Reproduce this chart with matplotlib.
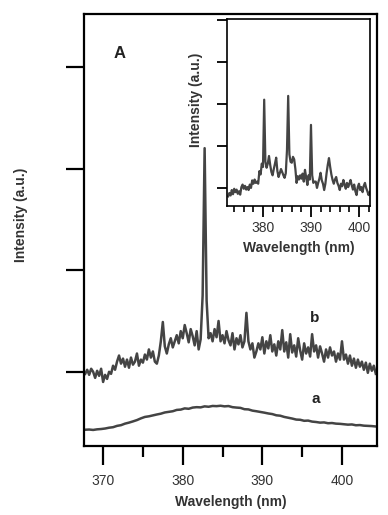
import numpy as np
import matplotlib
matplotlib.use("Agg")
import matplotlib.pyplot as plt
from matplotlib.ticker import MultipleLocator

plt.rcParams['font.family'] = ['Liberation Sans', 'DejaVu Sans']

# ---------------- data ----------------
# curve b (main), sampled every 0.25 nm from 367.75 nm
b_start, b_step = 367.75, 0.25
b_vals = [0.98, 1.02, 0.97, 1.03, 1.00,
          0.94, 1.01, 0.96, 1.03,
          0.90, 0.97, 0.93, 1.00,
          0.98, 1.06, 1.02, 1.10,
          1.16, 1.08, 1.13, 1.05,
          1.12, 1.04, 1.14, 1.07,
          1.10, 1.18, 1.06, 1.12,
          1.09, 1.17, 1.12, 1.22,
          1.14, 1.20, 1.10, 1.08,
          1.16, 1.30, 1.49, 1.25,
          1.18, 1.27, 1.33, 1.24,
          1.30, 1.36, 1.28, 1.40,
          1.33, 1.46, 1.38, 1.29,
          1.42, 1.35, 1.26, 1.40,
          1.22, 1.32, 1.75, 3.20,
          1.70, 1.33, 1.38, 1.30,
          1.42, 1.34, 1.50, 1.30,
          1.36, 1.28, 1.40, 1.31,
          1.26, 1.38, 1.22, 1.33,
          1.27, 1.36, 1.24, 1.30,
          1.58, 1.30, 1.22, 1.28,
          1.14, 1.20, 1.28, 1.22,
          1.34, 1.18, 1.30, 1.23,
          1.36, 1.20, 1.27, 1.16,
          1.30, 1.22, 1.41, 1.20,
          1.29, 1.14, 1.37, 1.19,
          1.26, 1.15, 1.33, 1.21,
          1.12, 1.28, 1.18, 1.24,
          1.15, 1.37, 1.20, 1.26,
          1.14, 1.25, 1.18, 1.10,
          1.22, 1.14, 1.24, 1.16,
          1.20, 1.10, 1.18, 1.12,
          1.30, 1.12, 1.17, 1.08,
          1.16, 1.06, 1.13, 1.04,
          1.12, 1.05, 1.10, 1.02,
          1.09, 0.99, 1.08, 1.01,
          1.06, 0.98]

# curve a (main), sampled every 0.5 nm from 367.75 nm
a_start, a_step = 367.75, 0.5
a_vals = [0.430, 0.432, 0.428, 0.434, 0.437, 0.442, 0.450, 0.455, 0.468, 0.475,
          0.490, 0.500, 0.512, 0.525, 0.542, 0.556, 0.562, 0.571, 0.580, 0.588,
          0.600, 0.606, 0.612, 0.625, 0.628, 0.640, 0.636, 0.648, 0.652, 0.650,
          0.660, 0.656, 0.664, 0.662, 0.666, 0.660, 0.663, 0.652, 0.648, 0.645,
          0.632, 0.630, 0.618, 0.612, 0.605, 0.598, 0.590, 0.584, 0.572, 0.568,
          0.556, 0.548, 0.540, 0.530, 0.528, 0.518, 0.520, 0.510, 0.506, 0.500,
          0.502, 0.494, 0.496, 0.490, 0.488, 0.484, 0.480, 0.482, 0.474, 0.476,
          0.470, 0.468, 0.466, 0.462]

# inset curve, sampled every 0.25 nm from 372.75 nm
i_start, i_step = 372.75, 0.25
i_vals = [-0.20,
          -0.12, -0.18, -0.05, -0.15,
          -0.02, -0.10, -0.04, -0.14,
          -0.08, -0.16, 0.02, 0.08,
          -0.02, 0.05, -0.04, 0.02,
          -0.05, 0.08, 0.00, 0.18,
          0.10, 0.20, 0.12, 0.15,
          0.10, 0.40, 0.32, 0.58,
          0.50, 2.10, 0.62, 0.48,
          0.58, 0.76, 0.55, 0.38,
          0.30, 0.45, 0.58, 0.72,
          0.40, 0.26, 0.35, 0.45,
          0.38, 0.30, 0.24, 0.35,
          0.90, 2.19, 0.80, 0.62,
          0.60, 0.74, 0.68, 0.45,
          0.12, 0.28, 0.20, 0.30,
          0.22, 0.34, 0.15, 0.43,
          0.25, 0.07, 0.30, 0.20,
          1.50, 0.30, 0.12, 0.15,
          0.15, 0.00, 0.12, 0.22,
          0.36, 0.18, 0.10, -0.05,
          0.10, 0.35, 0.55, 0.71,
          0.50, 0.32, 0.19, 0.10,
          0.20, 0.26, 0.12, 0.05,
          -0.05, 0.10, 0.04, 0.19,
          0.08, -0.02, 0.12, 0.02,
          0.10, 0.19, 0.06, -0.04,
          0.08, -0.08, -0.17, 0.02,
          0.10, -0.05, 0.02, -0.10,
          0.05, 0.12, 0.00, -0.08,
          -0.17, -0.10]

main_xticks = [370, 380, 390, 400]
main_xminor = [375, 385, 395]
main_yticks = [1, 2, 3, 4]
inset_xticks = [380, 390, 400]
inset_yticks = [0, 1, 2, 3, 4]

b_x = b_start + b_step * np.arange(len(b_vals))
a_x = a_start + a_step * np.arange(len(a_vals))
i_x = i_start + i_step * np.arange(len(i_vals))

# ---------------- figure ----------------
W, H = 388, 515
fig = plt.figure(figsize=(W / 100, H / 100), dpi=100)
line_c = '#444444'
txt_c = '#333333'

def fr(l, t, r, b):
    return [l / W, 1 - b / H, (r - l) / W, (b - t) / H]

ax = fig.add_axes(fr(84, 14, 377, 446))
ax.plot(b_x, b_vals, color=line_c, lw=1.8)
ax.plot(a_x, a_vals, color=line_c, lw=1.8)
ax.set_xlim(367.6, 404.4)
ax.set_ylim(0.27, 4.52)
for s in ax.spines.values():
    s.set_linewidth(1.6)
ax.set_xticks(main_xticks)
ax.set_xticks(main_xminor, minor=True)
ax.set_yticks(main_yticks)
ax.set_yticklabels([])
ax.tick_params(axis='x', which='major', direction='out', length=14, width=1.6,
               labelsize=10, labelcolor=txt_c, pad=6)
ax.tick_params(axis='x', which='minor', direction='out', length=8, width=1.6)
ax.tick_params(axis='y', which='major', direction='out', length=13, width=1.6)
ax.set_xlabel('Wavelength (nm)', fontsize=10, fontweight='bold', color=txt_c, labelpad=5)
ax.set_ylabel('Intensity (a.u.)', fontsize=10, fontweight='bold', color=txt_c)
ax.yaxis.set_label_coords(-0.19, 0.535)
fig.text(120 / W, 1 - 53 / H, 'A', fontsize=12, fontweight='bold', color='#222222',
         ha='center', va='center')
fig.text(315 / W, 1 - 318 / H, 'b', fontsize=11, fontweight='bold', color='#222222',
         ha='center', va='center')
fig.text(316 / W, 1 - 399 / H, 'a', fontsize=11, fontweight='bold', color='#222222',
         ha='center', va='center')

# inset
ins = fig.add_axes(fr(227, 19, 370, 206))
ins.plot(i_x, i_vals, color=line_c, lw=1.6)
ins.set_xlim(372.5, 402.3)
ins.set_ylim(-0.43, 4.02)
for s in ins.spines.values():
    s.set_linewidth(1.2)
ins.set_xticks(inset_xticks)
ins.xaxis.set_minor_locator(MultipleLocator(2))
ins.set_yticks(inset_yticks)
ins.set_yticklabels([])
ins.tick_params(axis='x', which='major', direction='out', length=8, width=1.3,
                labelsize=10, labelcolor=txt_c, pad=3)
ins.tick_params(axis='x', which='minor', direction='out', length=4, width=1.2)
ins.tick_params(axis='y', which='major', direction='out', length=7, width=1.3)
ins.set_xlabel('Wavelength (nm)', fontsize=10, fontweight='bold', color=txt_c, labelpad=4)
ins.set_ylabel('Intensity (a.u.)', fontsize=10, fontweight='bold', color=txt_c)
ins.yaxis.set_label_coords(-0.168, 0.57)

fig.savefig('out.png', dpi=100)
